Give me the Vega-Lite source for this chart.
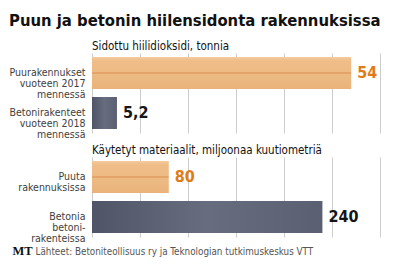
{
  "$schema": "https://vega.github.io/schema/vega-lite/v6.json",
  "background": "white",
  "padding": {"left": 9, "top": 13, "right": 4, "bottom": 4},
  "config": {
    "view": {"stroke": null},
    "font": "DejaVu Sans Condensed, Roboto, sans-serif",
    "concat": {"spacing": 4}
  },
  "title": {
    "text": "Puun ja betonin hiilensidonta rakennuksissa",
    "anchor": "start",
    "font": "DejaVu Sans Condensed, Roboto, sans-serif",
    "fontSize": 16.5,
    "fontWeight": "bold",
    "color": "#111111",
    "offset": 11
  },
  "data": {
    "values": [
      {"panel": "hiili", "label": "Puurakennukset|vuoteen 2017|mennessä", "value": 54, "text": "54", "material": "puu"},
      {"panel": "hiili", "label": "Betonirakenteet|vuoteen 2018|mennessä", "value": 5.2, "text": "5,2", "material": "betoni"},
      {"panel": "materiaali", "label": "Puuta|rakennuksissa", "value": 80, "text": "80", "material": "puu"},
      {"panel": "materiaali", "label": "Betonia|betoni-|rakenteissa", "value": 240, "text": "240", "material": "betoni"}
    ]
  },
  "vconcat": [
    {
      "title": {"text": "Sidottu hiilidioksidi, tonnia", "anchor": "start", "frame": "group", "fontSize": 11.5, "fontWeight": "normal", "color": "#111111", "offset": 1},
      "width": 288,
      "height": 80,
      "transform": [{"filter": "datum.panel === 'hiili'"}],
      "encoding": {
        "y": {
          "field": "label", "type": "nominal", "sort": null,
          "scale": {"paddingInner": 0.2, "paddingOuter": 0.1},
          "axis": {"title": null, "ticks": false, "domain": false, "labelPadding": 7, "labelFontSize": 10.5, "labelColor": "#404040", "labelLineHeight": 11, "labelExpr": "split(datum.value, '|')"}
        },
        "x": {
          "field": "value", "type": "quantitative",
          "scale": {"domain": [0, 60], "nice": false},
          "axis": {"title": null, "labels": false, "ticks": false, "domain": false, "grid": true, "gridColor": "#cccccc", "values": [0, 10, 20, 30, 40, 50, 60]}
        }
      },
      "layer": [
        {
          "transform": [{"filter": "datum.material === 'puu'"}],
          "mark": {"type": "bar", "color": {"gradient": "linear", "x1": 0, "y1": 0, "x2": 0, "y2": 1, "stops": [{"offset": 0, "color": "#f4cc9b"}, {"offset": 0.12, "color": "#efbd88"}, {"offset": 0.46, "color": "#eebb85"}, {"offset": 0.5, "color": "#de9658"}, {"offset": 0.54, "color": "#eebb85"}, {"offset": 1, "color": "#e9b27a"}]}}
        },
        {
          "transform": [{"filter": "datum.material === 'betoni'"}],
          "mark": {"type": "bar", "color": {"gradient": "linear", "x1": 0, "y1": 0, "x2": 1, "y2": 0, "stops": [{"offset": 0, "color": "#4f5467"}, {"offset": 0.5, "color": "#676c7e"}, {"offset": 1, "color": "#5a5f72"}]}}
        },
        {
          "mark": {"type": "text", "align": "left", "baseline": "middle", "dx": 6, "fontSize": 16, "fontWeight": "bold"},
          "encoding": {
            "text": {"field": "text"},
            "color": {"field": "material", "type": "nominal", "scale": {"domain": ["puu", "betoni"], "range": ["#e07b1a", "#151515"]}, "legend": null}
          }
        }
      ]
    },
    {
      "title": {"text": "Käytetyt materiaalit, miljoonaa kuutiometriä", "anchor": "start", "frame": "group", "fontSize": 11.5, "fontWeight": "normal", "color": "#111111", "offset": 1},
      "width": 288,
      "height": 80,
      "transform": [{"filter": "datum.panel === 'materiaali'"}],
      "encoding": {
        "y": {
          "field": "label", "type": "nominal", "sort": null,
          "scale": {"paddingInner": 0.2, "paddingOuter": 0.1},
          "axis": {"title": "MT", "titleAngle": 0, "titleAlign": "left", "titleBaseline": "alphabetic", "titleX": -80, "titleY": 97, "titleFont": "Liberation Serif", "titleFontSize": 12.5, "titleFontWeight": "bold", "titleColor": "#111111",
                   "ticks": false, "domain": false, "labelPadding": 7, "labelFontSize": 10.5, "labelColor": "#404040", "labelLineHeight": 11, "labelExpr": "split(datum.value, '|')"}
        },
        "x": {
          "field": "value", "type": "quantitative",
          "scale": {"domain": [0, 300], "nice": false},
          "axis": {"title": "Lähteet: Betoniteollisuus ry ja Teknologian tutkimuskeskus VTT", "titleAnchor": "start", "titleAlign": "left", "titleBaseline": "alphabetic", "titleX": -57, "titleY": 17, "titleFontSize": 9.8, "titleFontWeight": "normal", "titleColor": "#555555",
                   "labels": false, "ticks": false, "domain": false, "grid": true, "gridColor": "#cccccc", "values": [0, 50, 100, 150, 200, 250, 300]}
        }
      },
      "layer": [
        {
          "transform": [{"filter": "datum.material === 'puu'"}],
          "mark": {"type": "bar", "color": {"gradient": "linear", "x1": 0, "y1": 0, "x2": 0, "y2": 1, "stops": [{"offset": 0, "color": "#f4cc9b"}, {"offset": 0.12, "color": "#efbd88"}, {"offset": 0.46, "color": "#eebb85"}, {"offset": 0.5, "color": "#de9658"}, {"offset": 0.54, "color": "#eebb85"}, {"offset": 1, "color": "#e9b27a"}]}}
        },
        {
          "transform": [{"filter": "datum.material === 'betoni'"}],
          "mark": {"type": "bar", "color": {"gradient": "linear", "x1": 0, "y1": 0, "x2": 1, "y2": 0, "stops": [{"offset": 0, "color": "#4f5467"}, {"offset": 0.5, "color": "#676c7e"}, {"offset": 1, "color": "#5a5f72"}]}}
        },
        {
          "mark": {"type": "text", "align": "left", "baseline": "middle", "dx": 6, "fontSize": 16, "fontWeight": "bold"},
          "encoding": {
            "text": {"field": "text"},
            "color": {"field": "material", "type": "nominal", "scale": {"domain": ["puu", "betoni"], "range": ["#e07b1a", "#151515"]}, "legend": null}
          }
        }
      ]
    }
  ]
}
